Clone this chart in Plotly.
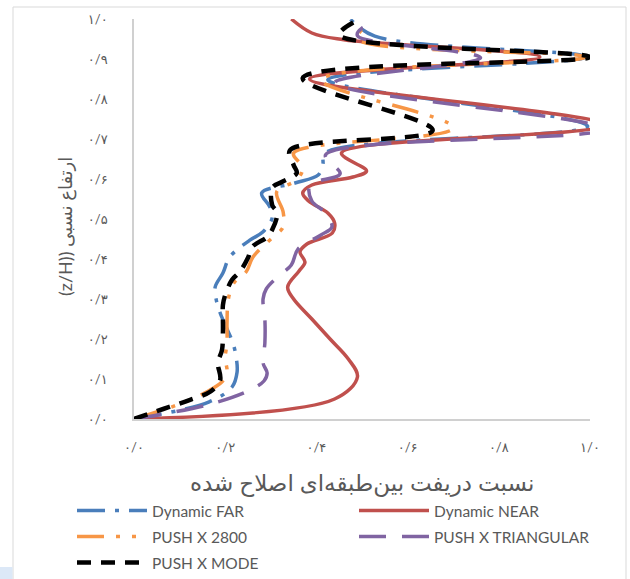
import plotly.graph_objects as go

# ---------------- data (relative drift ratio v, relative height z) ----------------
x_ticks = [0.0, 0.2, 0.4, 0.6, 0.8, 1.0]
x_tick_text = ["۰/۰", "۰/۲", "۰/۴", "۰/۶", "۰/۸", "۱/۰"]
y_ticks = [0.0, 0.1, 0.2, 0.3, 0.4, 0.5, 0.6, 0.7, 0.8, 0.9, 1.0]
y_tick_text = ["۰/۰", "۰/۱", "۰/۲", "۰/۳", "۰/۴", "۰/۵", "۰/۶", "۰/۷", "۰/۸", "۰/۹", "۱/۰"]
x_title = "\u202bنسبت دریفت بین\u200cطبقه\u200cای اصلاح شده\u202c"
y_title = "\u202bارتفاع نسبی ((z/H)\u202c"

far_z = [0, 0.043, 0.08, 0.117, 0.155, 0.19, 0.225, 0.265, 0.3, 0.33, 0.365, 0.405, 0.447, 0.468,
         0.503, 0.53, 0.565, 0.59, 0.61, 0.635, 0.665, 0.732, 0.848, 0.905, 0.957, 1.0]
far_v = [0, 0.165, 0.215, 0.226, 0.224, 0.217, 0.204, 0.189, 0.18, 0.178, 0.195, 0.21, 0.254, 0.283,
         0.303, 0.298, 0.28, 0.353, 0.404, 0.414, 0.419, 0.995, 0.425, 0.99, 0.528, 0.474]

near_z = [0, 0.05, 0.105, 0.15, 0.2, 0.25, 0.3, 0.33, 0.37, 0.392, 0.418, 0.438, 0.465, 0.49,
          0.515, 0.545, 0.565, 0.585, 0.605, 0.62, 0.665, 0.735, 0.85, 0.905, 0.948, 0.965, 1.0]
near_v = [0, 0.44, 0.49, 0.47, 0.43, 0.39, 0.35, 0.337, 0.362, 0.375, 0.364, 0.38, 0.435, 0.44,
          0.425, 0.383, 0.37, 0.39, 0.48, 0.51, 0.455, 1.03, 0.385, 0.89, 0.46, 0.39, 0.345]

p2800_z = [0, 0.035, 0.068, 0.093, 0.115, 0.153, 0.19, 0.24, 0.3, 0.34, 0.368, 0.405, 0.453, 0.48,
           0.518, 0.568, 0.598, 0.628, 0.665, 0.728, 0.848, 0.905, 0.95, 0.985]
p2800_v = [0, 0.094, 0.16, 0.193, 0.204, 0.2, 0.204, 0.204, 0.207, 0.219, 0.246, 0.261, 0.303, 0.327,
           0.327, 0.313, 0.357, 0.37, 0.35, 0.70, 0.41, 0.99, 0.49, 0.51]

tri_z = [0, 0.035, 0.07, 0.095, 0.115, 0.14, 0.19, 0.25, 0.3, 0.325, 0.355, 0.385, 0.425, 0.46,
         0.48, 0.515, 0.545, 0.585, 0.613, 0.66, 0.725, 0.84, 0.903, 0.958, 0.977, 0.985]
tri_v = [0, 0.16, 0.25, 0.285, 0.292, 0.283, 0.287, 0.287, 0.283, 0.29, 0.315, 0.345, 0.36, 0.41,
         0.434, 0.42, 0.39, 0.386, 0.452, 0.42, 1.03, 0.44, 0.76, 0.49, 0.5, 0.53]

mode_z = [0, 0.025, 0.048, 0.068, 0.098, 0.14, 0.173, 0.215, 0.25, 0.285, 0.31, 0.348, 0.368, 0.403,
          0.43, 0.455, 0.473, 0.515, 0.535, 0.578, 0.593, 0.615, 0.635, 0.672, 0.722, 0.852, 0.905,
          0.96, 1.0]
mode_v = [0, 0.064, 0.123, 0.167, 0.189, 0.184, 0.193, 0.195, 0.195, 0.195, 0.2, 0.215, 0.232, 0.25,
          0.259, 0.292, 0.303, 0.314, 0.303, 0.303, 0.325, 0.357, 0.35, 0.342, 0.655, 0.37, 1.0,
          0.45, 0.495]

series = [
    ("Dynamic FAR", far_v, far_z, "#4A7EBB", "28px,10px,4px,10px", 3.5, "legend"),
    ("Dynamic NEAR", near_v, near_z, "#C0504D", "solid", 3.5, "legend2"),
    ("PUSH X 2800", p2800_v, p2800_z, "#F79646", "27px,12px,4px,12px,4px,12px", 3.5, "legend3"),
    ("PUSH X TRIANGULAR", tri_v, tri_z, "#8064A2", "27px,16px", 3.5, "legend4"),
    ("PUSH X MODE", mode_v, mode_z, "#000000", "14px,10px", 4.5, "legend5"),
]

FONT = "Lato, 'DejaVu Sans', sans-serif"
TXT = "#595959"

fig = go.Figure()
for name, v, z, col, dash, w, lg in series:
    fig.add_trace(go.Scatter(
        x=v, y=z, mode="lines", name=name, legend=lg, showlegend=True,
        line=dict(color=col, width=w, dash=dash, shape="spline", smoothing=1.0),
    ))

W, H = 630, 579
L, R, T, B = 134, 40, 19, 160
pw, ph = W - L - R, H - T - B

def px(xp):
    return (xp - L) / pw

def py(yp):
    return (H - B - yp) / ph

def cx(xp):
    return xp / W

def cy(yp):
    return (H - yp) / H

leg_common = dict(bgcolor="rgba(0,0,0,0)", font=dict(family=FONT, size=15.5, color=TXT),
                  itemwidth=70, xanchor="left", yanchor="middle", orientation="v", visible=True,
                  xref="container", yref="container")
col1, col2 = 72, 354
row1, row2, row3 = 511, 537, 563

fig.update_layout(
    width=W, height=H,
    showlegend=True,
    margin=dict(l=L, r=R, t=T, b=B, autoexpand=False),
    paper_bgcolor="white", plot_bgcolor="white",
    font=dict(family=FONT, color=TXT),
    legend=dict(x=cx(col1), y=cy(row1), **leg_common),
    legend2=dict(x=cx(col2), y=cy(row1), **leg_common),
    legend3=dict(x=cx(col1), y=cy(row2), **leg_common),
    legend4=dict(x=cx(col2), y=cy(row2), **leg_common),
    legend5=dict(x=cx(col1), y=cy(row3), **leg_common),
    xaxis=dict(
        range=[0, 1], showgrid=False, zeroline=False, showline=True,
        linecolor="#D0D0D0", linewidth=1.5, ticks="",
        tickvals=x_ticks, ticktext=x_tick_text,
        tickfont=dict(family=FONT, size=13, color=TXT), ticklabelstandoff=16,
    ),
    yaxis=dict(
        range=[0, 1], showgrid=False, zeroline=False, showline=True,
        linecolor="#D0D0D0", linewidth=1.5, ticks="",
        tickvals=y_ticks, ticktext=y_tick_text,
        tickfont=dict(family=FONT, size=13, color=TXT), ticklabelstandoff=22,
    ),
    annotations=[
        dict(text=x_title, xref="paper", yref="paper", x=0.5, y=py(482),
             xanchor="center", yanchor="middle", showarrow=False,
             font=dict(family=FONT, size=23, color=TXT)),
        dict(text=y_title, xref="paper", yref="paper", x=px(65), y=py(227),
             xanchor="center", yanchor="middle", showarrow=False, textangle=-90,
             font=dict(family=FONT, size=18, color=TXT)),
    ],
    shapes=[
        dict(type="rect", xref="paper", yref="paper",
             x0=px(13), x1=px(626), y0=py(600), y1=py(7),
             line=dict(color="#D9D9D9", width=1), fillcolor="rgba(0,0,0,0)", layer="below"),
        dict(type="rect", xref="paper", yref="paper",
             x0=px(0), x1=px(12.5), y0=py(579), y1=py(567),
             line=dict(width=0), fillcolor="#DCE8F7", layer="below"),
    ],
)

page_css = ("var s=document.createElement('style');"
            "s.innerHTML='html,body{margin:0;padding:0;overflow:hidden;width:630px;height:579px;}';"
            "document.head.appendChild(s);")

fig.write_html("out.html", config={"displayModeBar": False}, post_script=page_css)
